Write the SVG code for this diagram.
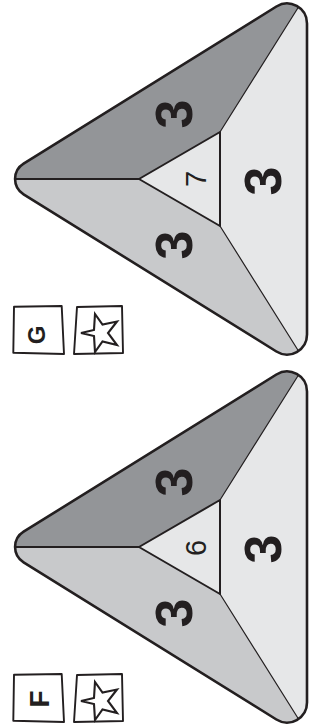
<svg xmlns="http://www.w3.org/2000/svg" xmlns:xlink="http://www.w3.org/1999/xlink" width="321" height="728" viewBox="0 0 321 728">
<style>
.ink{fill:none;stroke:#231f20;stroke-linejoin:round;stroke-linecap:round}
.num{font-family:"Liberation Sans",Arial,sans-serif;font-weight:bold;font-size:52px;fill:#231f20;text-anchor:middle}
.mid{font-family:"Liberation Sans",Arial,sans-serif;font-size:29px;fill:#231f20;text-anchor:middle}
.lab{font-family:"Liberation Sans",Arial,sans-serif;font-weight:bold;fill:#231f20;text-anchor:middle}
.box{fill:#fff;stroke:#231f20;stroke-width:1.9;stroke-linejoin:round}
.star{fill:#fff;stroke:#231f20;stroke-width:2.1;stroke-linejoin:miter}
</style>
<defs>
<clipPath id="clipOuter"><path d="M23.6,163.7 L276.4,6.5 A20,20 0 0 1 307,23.5 L307,334.5 A20,20 0 0 1 276.4,351.5 L23.6,194.3 A18,18 0 0 1 23.6,163.7 Z"/></clipPath>
<g id="shape">
<path d="M23.6,163.7 L276.4,6.5 A20,20 0 0 1 307,23.5 L307,334.5 A20,20 0 0 1 276.4,351.5 L23.6,194.3 A18,18 0 0 1 23.6,163.7 Z" fill="#e6e7e8"/>
<g clip-path="url(#clipOuter)">
<polygon points="139,179 -20,179 -20,-40 328,-40 220,132" fill="#939598"/>
<polygon points="139,179 -20,179 -20,398 328,398 220,226" fill="#c8c9cb"/>
</g>
<polygon points="139,179 220,132 220,226" fill="#fff" class="ink" stroke-width="2"/>
<path class="ink" stroke-width="1.8" d="M15,179 L139,179"/>
<path class="ink" stroke-width="1.2" d="M220,132 L298.5,7 M220,226 L298.5,351"/>
<path class="ink" stroke-width="2.6" d="M23.6,163.7 L276.4,6.5 A20,20 0 0 1 307,23.5 L307,334.5 A20,20 0 0 1 276.4,351.5 L23.6,194.3 A18,18 0 0 1 23.6,163.7 Z"/>
</g>
<g id="starIcon">
<polygon class="box" points="77,307 122,306 123,353 74,354"/>
<polygon class="star" points="81,333 94,330 95,314 102.5,324.5 117,321.5 108,333 117,345 102.5,341.5 95,352 94,336"/>
</g>
</defs>

<g id="panel-G">
<g id="triangle-G"><use xlink:href="#shape"/></g>
<g id="labels-G">
<text class="num" transform="translate(173,114) rotate(-90)" y="18.6">3</text>
<text class="num" transform="translate(173,245) rotate(-90)" y="18.6">3</text>
<text class="num" transform="translate(262,181) rotate(-90)" y="18.6">3</text>
<text class="mid" transform="translate(196,179) rotate(-90)" y="10.4">7</text>
</g>
<g id="box-G">
<polygon class="box" points="14,306.7 61.7,306 64,354 13.3,352.7"/>
<text class="lab" font-size="24" transform="translate(36,335) rotate(-90)" y="8.6">G</text>
</g>
<g id="star-G"><use xlink:href="#starIcon"/></g>
</g>

<g id="panel-F" transform="translate(0,368)">
<g id="triangle-F"><use xlink:href="#shape"/></g>
<g id="labels-F">
<text class="num" transform="translate(173,114) rotate(-90)" y="18.6">3</text>
<text class="num" transform="translate(173,245) rotate(-90)" y="18.6">3</text>
<text class="num" transform="translate(262,181) rotate(-90)" y="18.6">3</text>
<text class="mid" transform="translate(196,180) rotate(-90)" y="10.4">6</text>
</g>
<g id="box-F">
<polygon class="box" points="14,306.7 61.7,306 64,354 13.3,352.7"/>
<text class="lab" font-size="28" transform="translate(38.5,331) rotate(-90)" y="10">F</text>
</g>
<g id="star-F"><use xlink:href="#starIcon"/></g>
</g>
</svg>
